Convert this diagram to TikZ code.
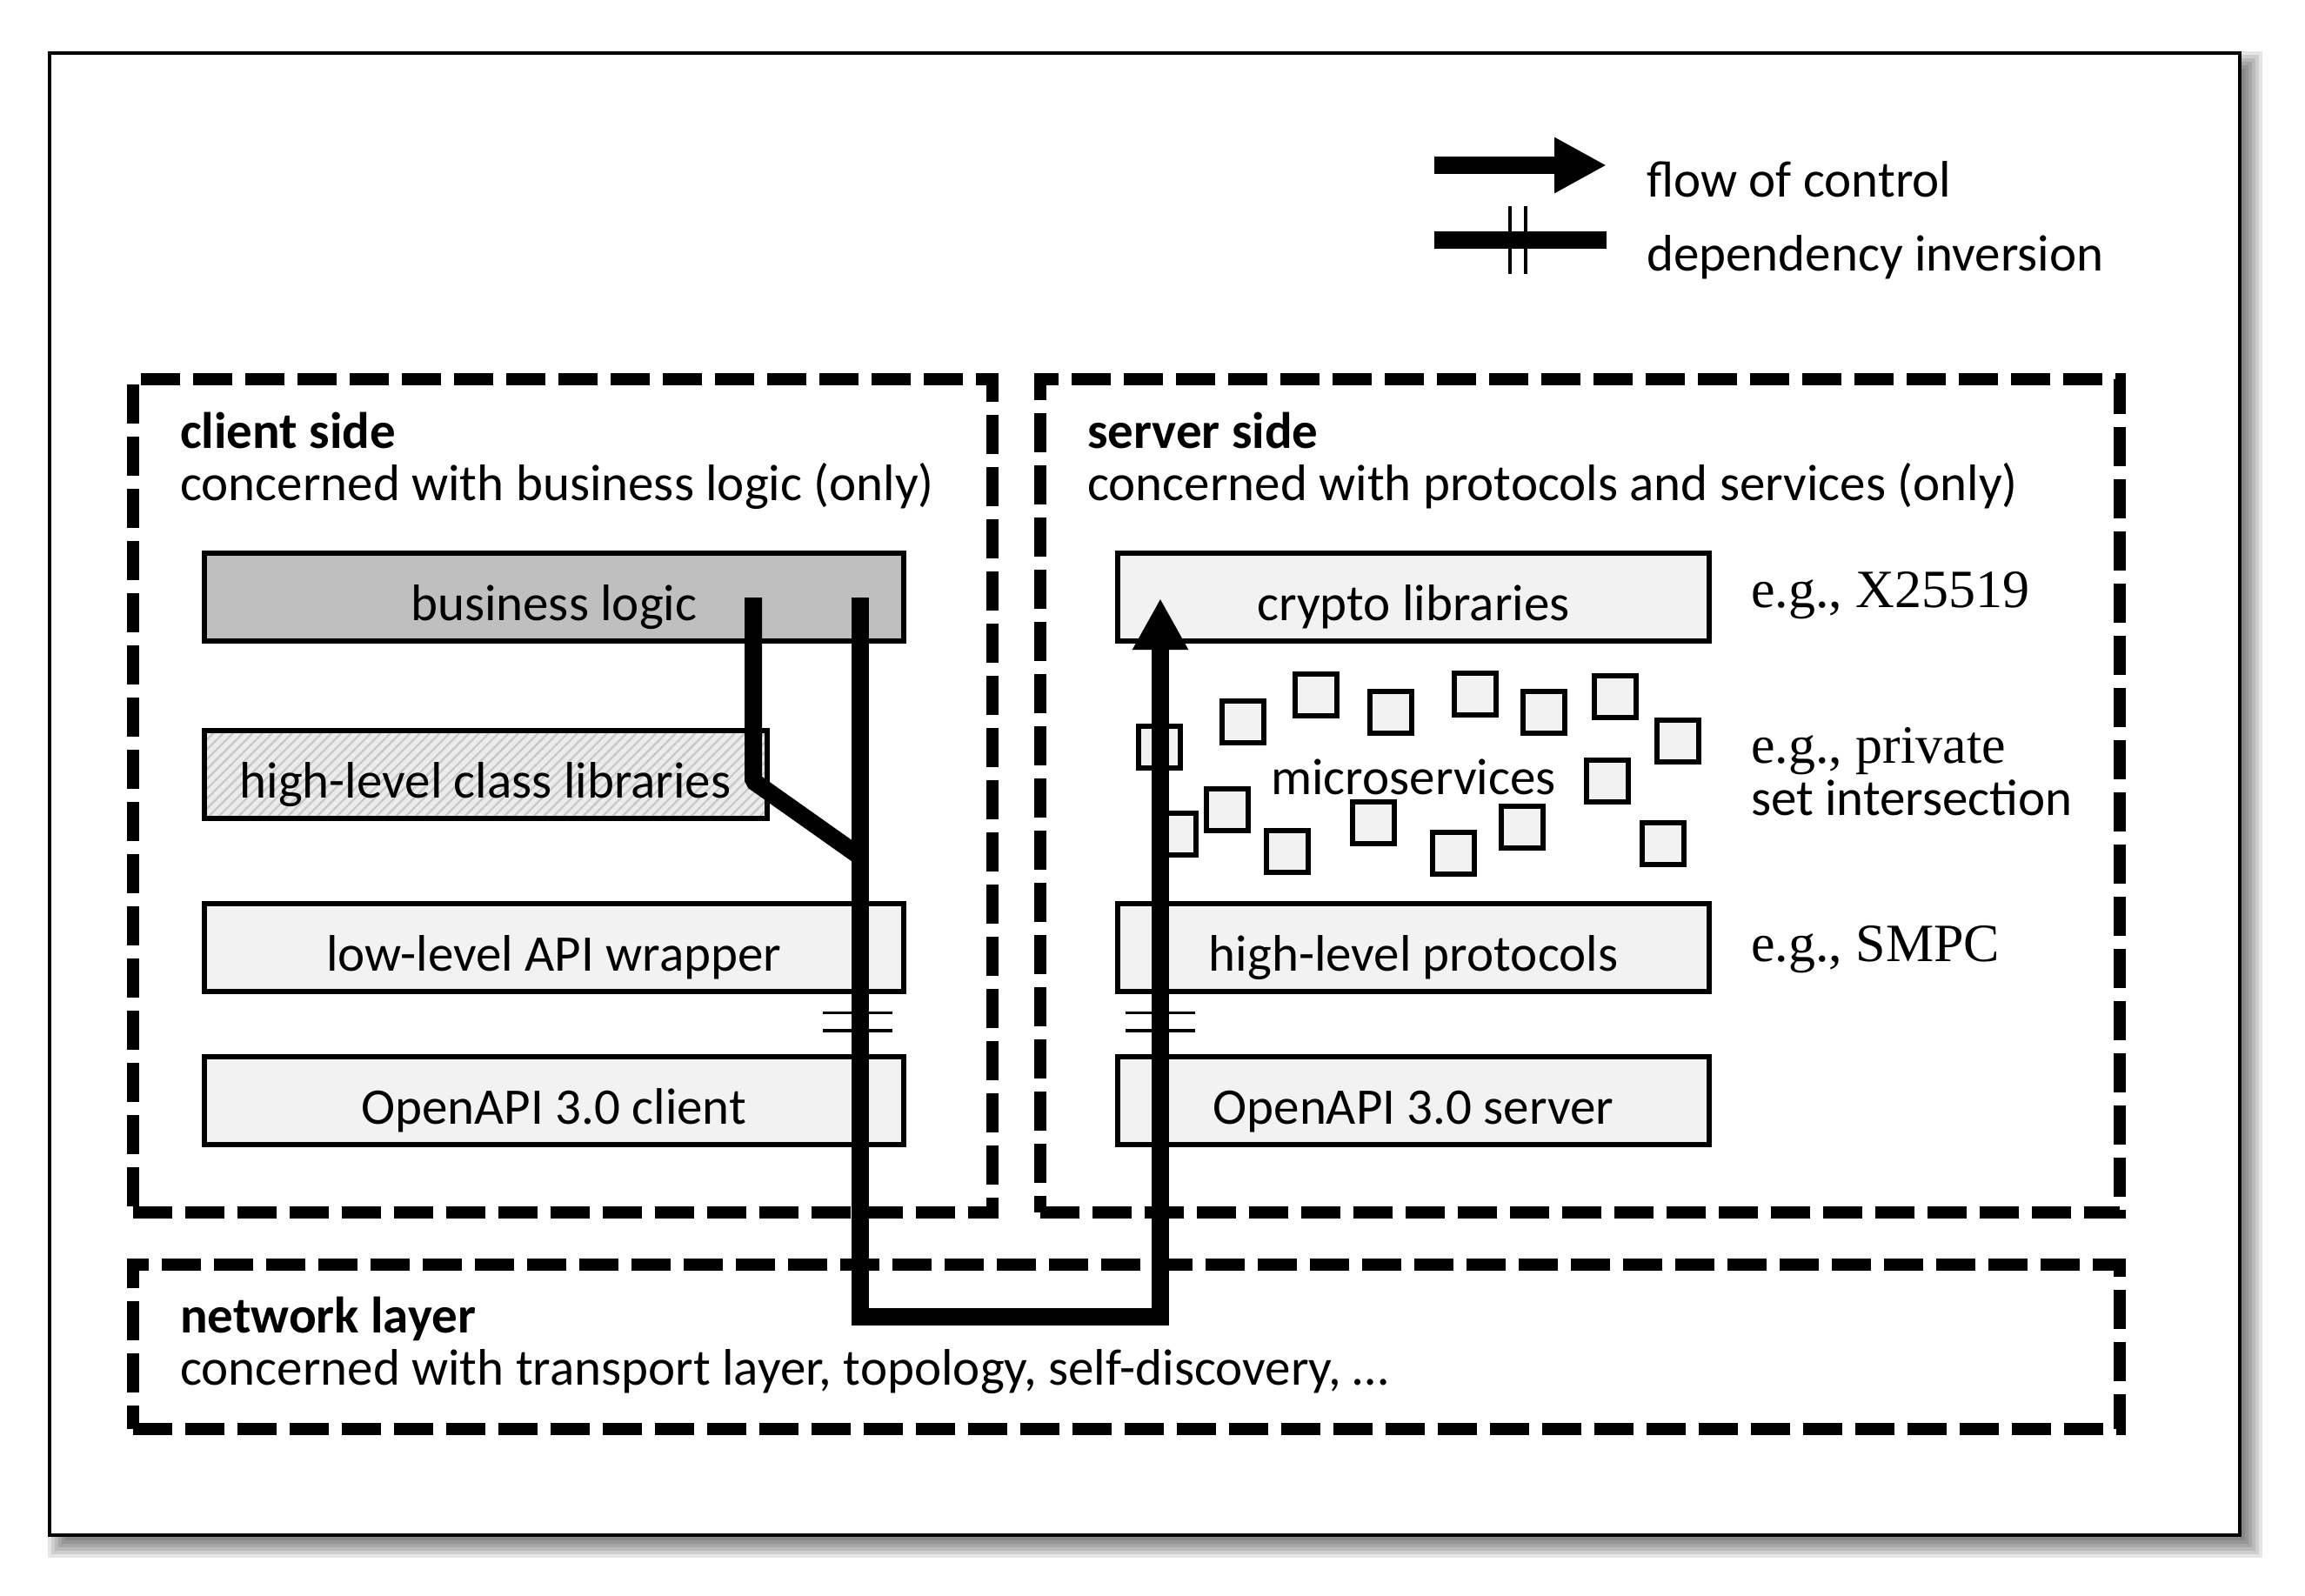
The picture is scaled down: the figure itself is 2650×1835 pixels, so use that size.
\documentclass[tikz,border=0pt]{standalone}
\usepackage{fontspec}
\newfontfamily\calfont{Carlito}
\newfontfamily\serffont{Liberation Serif}
\usetikzlibrary{arrows.meta,patterns.meta}
\definecolor{boxfill}{HTML}{F2F2F2}
\definecolor{bizfill}{HTML}{BFBFBF}
\definecolor{hatchbg}{HTML}{EBEBEB}
\newcommand\labfont{\calfont\fontsize{59}{71}\selectfont}
\newcommand\hdrfont{\calfont\bfseries\fontsize{59}{71}\selectfont}
\newcommand\exfont{\serffont\fontsize{62}{74}\selectfont}
\begin{document}
\begin{tikzpicture}[x=1pt,y=-1pt,
  region/.style={draw, line width=14pt, dash pattern=on 45pt off 15pt, inner sep=0pt},
  layer/.style={draw, line width=6pt, fill=boxfill, inner sep=0pt, minimum height=101pt, text height=54pt, text depth=0pt, font=\labfont},
  ms/.style={draw, line width=6pt, fill=boxfill, inner sep=0pt, minimum width=48pt, minimum height=48pt},
  lbl/.style={inner sep=0pt, anchor=base west, font=\labfont},
  hdr/.style={inner sep=0pt, anchor=base west, font=\hdrfont},
  ex/.style={inner sep=0pt, anchor=base west, font=\exfont},
  flow/.style={line width=20pt, line join=miter},
  tick/.style={line width=3.3pt},
]
\useasboundingbox (0,0) rectangle (2650,1835);

% drop shadow and outer frame
\foreach \d in {-14,-10,-6,-2,2,6,10}
  \fill[black, opacity=0.1] (69+\d,73+\d) rectangle (2587-\d,1777-\d);
\draw[line width=4.5pt, fill=white] (57,61) rectangle (2575,1765);

% legend
\coordinate (lga) at (1649,190);
\coordinate (lgb) at (1847,190);
\coordinate (lgc) at (1649,276);
\coordinate (lgd) at (1847,276);
\coordinate (lt1a) at (1736,237);
\coordinate (lt1b) at (1736,315);
\coordinate (lt2a) at (1754,237);
\coordinate (lt2b) at (1754,315);
\draw[flow, -{Triangle[length=60pt,width=60pt]}] (lga) -- (lgb);
\draw[flow] (lgc) -- (lgd);
\draw[tick] (lt1a) -- (lt1b);
\draw[tick] (lt2a) -- (lt2b);
\node[lbl] (lgflow) at (1893,227) {flow of control};
\node[lbl] (lgdep) at (1893,312) {dependency inversion};

% regions
\node[region, minimum width=988pt, minimum height=958pt] (client) at (646.5,915) {};
\node[region, minimum width=1241.5pt, minimum height=958pt] (server) at (1816.25,915) {};
\node[region, minimum width=2284.5pt, minimum height=189pt] (network) at (1294.75,1548.5) {};

\node[hdr] (clienth) at (207,515) {client side};
\node[lbl] (clientd) at (207,575) {concerned with business logic (only)};
\node[hdr] (serverh) at (1250,515) {server side};
\node[lbl] (serverd) at (1250,575) {concerned with protocols and services (only)};
\node[hdr] (neth) at (207,1532) {network layer};
\node[lbl] (netd) at (207,1592) {concerned with transport layer, topology, self-discovery, …};

% client layers
\node[layer, fill=bizfill, minimum width=804.5pt] (biz) at (636.75,686) {business logic};
\node[layer, minimum width=647pt, preaction={fill=hatchbg}, pattern={Lines[angle=45,distance=8pt,line width=2.2pt]}, pattern color=black!22] (hlc) at (558,890.5) {high-level class libraries};
\node[layer, minimum width=804.5pt] (llw) at (636.75,1089) {low-level API wrapper};
\node[layer, minimum width=804.5pt] (oac) at (636.75,1265) {OpenAPI 3.0 client};

% server layers
\node[layer, minimum width=680pt] (cry) at (1625,686) {crypto libraries};
\node[layer, minimum width=680pt] (hlp) at (1625,1089) {high-level protocols};
\node[layer, minimum width=680pt] (oas) at (1625,1265) {OpenAPI 3.0 server};

% microservices
\node[ms] (m1) at (1333,859) {};
\node[ms] (m2) at (1428.5,830) {};
\node[ms] (m3) at (1512.5,799) {};
\node[ms] (m4) at (1599,819) {};
\node[ms] (m5) at (1696,797.5) {};
\node[ms] (m6) at (1775,819) {};
\node[ms] (m7) at (1857,801) {};
\node[ms] (m8) at (1929,852) {};
\node[ms] (m9) at (1848,897.5) {};
\node[ms] (m10) at (1410.5,930.5) {};
\node[ms] (m11) at (1350.5,959) {};
\node[ms] (m12) at (1480,979) {};
\node[ms] (m13) at (1579,946) {};
\node[ms] (m14) at (1670.5,981) {};
\node[ms] (m15) at (1750,951) {};
\node[ms] (m16) at (1912,970) {};
\node[lbl, anchor=base] (msl) at (1625,913) {microservices};

% examples
\node[ex] (ex1) at (2013,698) {e.g., X25519};
\node[ex] (ex2) at (2013,877) {e.g., private};
\node[lbl] (ex2b) at (2013,937) {set intersection};
\node[ex] (ex3) at (2013,1105) {e.g., SMPC};

% flow of control
\coordinate (f1a) at (866,687);
\coordinate (f1b) at (866,898);
\coordinate (f1c) at (989,985);
\coordinate (f2a) at (989,687);
\coordinate (f2b) at (989,1514);
\coordinate (f2c) at (1334,1514);
\coordinate (f2d) at (1334,688);
\draw[flow, line join=bevel] (f1a) -- (f1b) -- (f1c);
\draw[flow, -{Triangle[length=59pt,width=60pt]}] (f2a) -- (f2b) -- (f2c) -- (f2d);

% dependency inversion ticks
\coordinate (ct1a) at (946,1164.5);
\coordinate (ct1b) at (1026,1164.5);
\coordinate (ct2a) at (946,1185);
\coordinate (ct2b) at (1026,1185);
\coordinate (st1a) at (1294,1164.5);
\coordinate (st1b) at (1374,1164.5);
\coordinate (st2a) at (1294,1185);
\coordinate (st2b) at (1374,1185);
\draw[tick] (ct1a) -- (ct1b);
\draw[tick] (ct2a) -- (ct2b);
\draw[tick] (st1a) -- (st1b);
\draw[tick] (st2a) -- (st2b);
\end{tikzpicture}
\end{document}
